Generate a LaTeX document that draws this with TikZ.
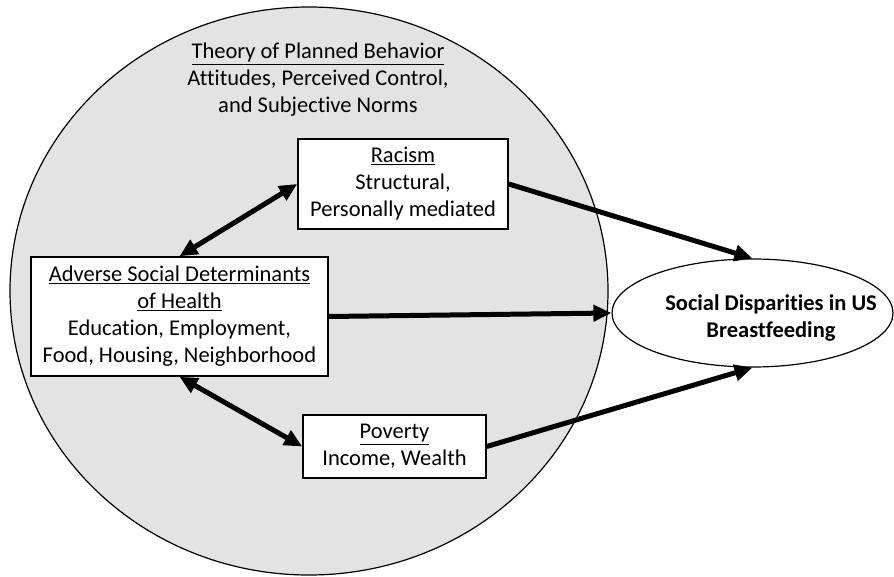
\documentclass[tikz,border=0pt]{standalone}
\usepackage{fontspec}
\setmainfont{Carlito}[Ligatures=NoCommon]
\usetikzlibrary{arrows.meta,shapes.geometric}

\begin{document}
\begin{tikzpicture}
[x=1pt,y=-1pt,
  boxdecorate/.style={shape=rectangle,draw,line width=1.5pt,fill=white,align=center,inner sep=0pt},%
  arrowdecorate/.style={-{Triangle[length=18pt,width=16pt]},line width=5pt},%
  bothdecorate/.style={{Triangle[length=18pt,width=16pt]}-{Triangle[length=18pt,width=16pt]},line width=5pt},%
  font=\fontsize{22.5}{27}\selectfont]
\useasboundingbox (0,0) rectangle (894,577);
%% theory circle
\node (theory) at (309,291) [shape=ellipse,draw,line width=1.2pt,fill=black!11,
  minimum width=598pt,minimum height=568pt,inner sep=0pt] {};
\node (theorytext) at (318,80) [align=center]
  {\underline{Theory of Planned Behavior}\\Attitudes, Perceived Control,\\and Subjective Norms};
%% boxes
\node (racism) at (403,184) [boxdecorate,minimum width=210pt,minimum height=90pt]
  {\underline{Racism}\\Structural,\\Personally mediated};
\node (asdh) at (179.5,316.5) [boxdecorate,minimum width=297pt,minimum height=119pt]
  {\underline{Adverse Social Determinants}\\\underline{of Health}\\Education, Employment,\\Food, Housing, Neighborhood};
\node (poverty) at (394.5,446.5) [boxdecorate,minimum width=183pt,minimum height=63pt]
  {\underline{Poverty}\\Income, Wealth};
%% outcome
\node (outcome) at (752.5,313) [shape=ellipse,draw,line width=1.2pt,fill=white,
  minimum width=281pt,minimum height=108pt,inner sep=0pt] {};
\node (outcometext) at (771,318) [align=center,font=\fontsize{22.5}{27}\selectfont\bfseries]
  {Social Disparities in US\\Breastfeeding};
%% arrows
\path
\foreach \startnode/\endnode in {racism.east/outcome.north, asdh.east/outcome.west,
  poverty.east/outcome.south}
{
  (\startnode) edge[arrowdecorate] (\endnode)
};
\path
\foreach \startnode/\endnode in {asdh.north/racism.west, asdh.south/poverty.west}
{
  (\startnode) edge[bothdecorate] (\endnode)
};
\end{tikzpicture}
\end{document}
